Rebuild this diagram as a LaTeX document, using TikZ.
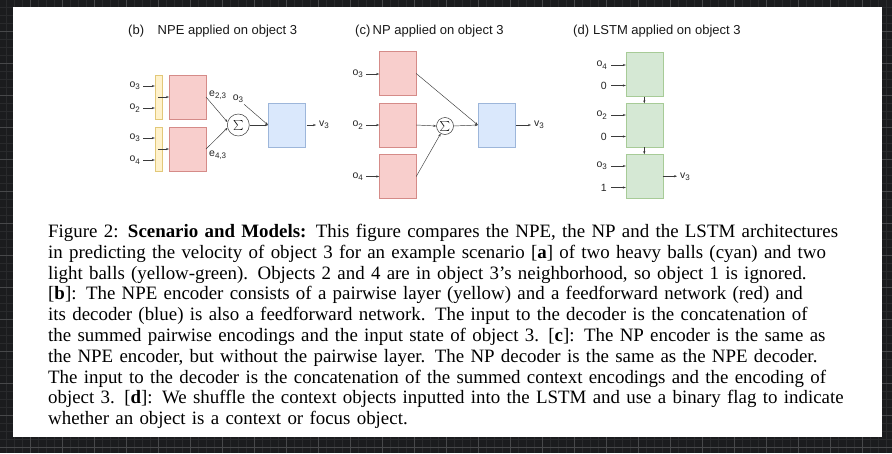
\documentclass[tikz,border=0pt]{standalone}
\usepackage{fontspec}
\setmainfont{Liberation Serif}
\newfontfamily\dfont{Liberation Sans}
\usetikzlibrary{arrows.meta}
\definecolor{bgdark}{HTML}{1B1C1E}
\definecolor{gridmin}{HTML}{292A2C}
\definecolor{gridmaj}{HTML}{47484A}
\definecolor{yfill}{HTML}{FFF2CC}\definecolor{ydraw}{HTML}{D6B656}
\definecolor{rfill}{HTML}{F8CECC}\definecolor{rdraw}{HTML}{B85450}
\definecolor{bfill}{HTML}{DAE8FC}\definecolor{bdraw}{HTML}{6C8EBF}
\definecolor{gfill}{HTML}{D5E8D4}\definecolor{gdraw}{HTML}{82B366}
\definecolor{linec}{HTML}{3A3A3A}
\newcommand{\dsub}[1]{\raisebox{-2.4pt}{\fontsize{8}{8}\selectfont #1}}
\newcommand{\capline}[1]{\makebox[750pt][s]{#1}}
\begin{document}
\begin{tikzpicture}[x=1pt,y=-1pt,
  box/.style={line width=0.5pt, minimum width=37pt, minimum height=44pt, inner sep=0, outer sep=0},
  ybar/.style={draw=ydraw!70!yfill, fill=yfill, line width=0.5pt, minimum width=7pt, minimum height=44pt, inner sep=0, outer sep=0},
  rbox/.style={box, draw=rdraw!55!rfill, fill=rfill},
  bbox/.style={box, draw=bdraw!55!bfill, fill=bfill},
  gbox/.style={box, draw=gdraw!55!gfill, fill=gfill},
  lab/.style={font=\dfont\fontsize{10.5}{10.5}\selectfont, inner sep=1pt, text=black!85},
  ttl/.style={font=\dfont\fontsize{13}{13}\selectfont, anchor=west, inner sep=0, text=black!90},
  arr/.style={-{Stealth[length=3pt,width=2.2pt]}, line width=0.45pt, draw=linec},
  sig/.style={circle, draw=linec, line width=0.5pt, inner sep=0, fill=white}
]
\useasboundingbox (0,0) rectangle (892,453);
% dark background with grid
\fill[bgdark] (0,0) rectangle (892,453);
\foreach \x in {6,14,...,886} \draw[gridmin, line width=0.6pt] (\x,0) -- (\x,453);
\foreach \y in {7,15,...,447} \draw[gridmin, line width=0.6pt] (0,\y) -- (892,\y);
\foreach \x in {30,62,...,862} \draw[gridmaj, line width=0.7pt] (\x,0) -- (\x,453);
\foreach \y in {31,63,...,447} \draw[gridmaj, line width=0.7pt] (0,\y) -- (892,\y);
\fill[white] (13,7) rectangle (882,437);

% ---------- (b) NPE ----------
\node[ttl] (tb) at (128,31) {\makebox[29.5pt][l]{(b)}NPE applied on object 3};
\node[ybar] (ya) at (158.3,97) {};
\node[ybar] (yb) at (158.3,149) {};
\node[rbox] (ra) at (187.5,97) {};
\node[rbox] (rb) at (187.5,149) {};
\node[lab, anchor=east] (la1) at (141,86) {o\dsub{3}};
\node[lab, anchor=east] (la2) at (141,108) {o\dsub{2}};
\node[lab, anchor=east] (lb1) at (141,138) {o\dsub{3}};
\node[lab, anchor=east] (lb2) at (141,160) {o\dsub{4}};
\foreach \n in {la1,la2} \draw[arr] ([xshift=2pt]\n.east) -- (\n.east -| ya.west);
\foreach \n in {lb1,lb2} \draw[arr] ([xshift=2pt]\n.east) -- (\n.east -| yb.west);
\draw[arr] (ya.center) -- (ra.west);
\draw[arr] (yb.center) -- (rb.west);
\node[sig, minimum size=22pt] (sb) at (238.3,125) {\fontsize{12}{12}\selectfont$\sum$};
\node[lab, anchor=west] (eb1) at (208,95) {e\dsub{2,3}};
\node[lab, anchor=west] (eb2) at (208,155) {e\dsub{4,3}};
\draw[arr] (ra.east) -- (sb.165);
\draw[arr] (rb.east) -- (sb.195);
\node[lab] (lo3) at (238,99) {o\dsub{3}};
\node[bbox] (bb) at (286.5,125) {};
\draw[arr] (lo3) -- (bb.west);
\draw[arr] (sb.east) -- (bb.west);
\node[lab, anchor=west] (vb) at (318,125) {v\dsub{3}};
\draw[arr, shorten <=1.5pt, shorten >=2pt] (bb.east) -- (vb.west);

% ---------- (c) NP ----------
\node[ttl] (tc) at (355,31) {\makebox[17.5pt][l]{(c)}NP applied on object 3};
\node[rbox] (c1) at (397.7,73.5) {};
\node[rbox] (c2) at (397.7,125) {};
\node[rbox] (c3) at (397.7,176.5) {};
\node[lab, anchor=east] (lc1) at (364,74) {o\dsub{3}};
\node[lab, anchor=east] (lc2) at (364,125) {o\dsub{2}};
\node[lab, anchor=east] (lc3) at (364,176.5) {o\dsub{4}};
\draw[arr] ([xshift=2pt]lc1.east) -- (lc1.east -| c1.west);
\draw[arr] ([xshift=2pt]lc2.east) -- (lc2.east -| c2.west);
\draw[arr] ([xshift=2pt]lc3.east) -- (lc3.east -| c3.west);
\node[sig, minimum size=17pt] (sc) at (445,126) {\fontsize{10}{10}\selectfont$\sum$};
\node[bbox] (cb) at (496.3,125) {};
\draw[arr] (c1.east) -- (cb.west);
\draw[arr] (c2.east) -- (sc.west);
\draw[arr] (c3.east) -- (sc);
\draw[arr] (sc.east) -- (cb.west);
\node[lab, anchor=west] (vc) at (533,125) {v\dsub{3}};
\draw[arr, shorten <=1.5pt, shorten >=2pt] (cb.east) -- (vc.west);

% ---------- (d) LSTM ----------
\node[ttl] (td) at (573,31) {\makebox[20pt][l]{(d)}LSTM applied on object 3};
\node[gbox] (d1) at (644.3,74.5) {};
\node[gbox] (d2) at (644.3,125.3) {};
\node[gbox] (d3) at (644.3,176.2) {};
\node[lab, anchor=east] (ld1) at (608,65) {o\dsub{4}};
\node[lab, anchor=east] (ld2) at (608,85.5) {0};
\node[lab, anchor=east] (ld3) at (608,115) {o\dsub{2}};
\node[lab, anchor=east] (ld4) at (608,136.5) {0};
\node[lab, anchor=east] (ld5) at (608,166) {o\dsub{3}};
\node[lab, anchor=east] (ld6) at (608,187.5) {1};
\foreach \n in {ld1,ld2,ld3,ld4,ld5,ld6} \draw[arr] ([xshift=3pt]\n.east) -- (\n.east -| d1.west);
\draw[arr] (d1.south) -- (d2.north);
\draw[arr] (d2.south) -- (d3.north);
\node[lab, anchor=west] (vd) at (679,177) {v\dsub{3}};
\draw[arr, shorten >=2pt] (d3.east) -- (d3.east -| vd.west);

% ---------- caption ----------
\node[anchor=north west, inner sep=0, text width=750pt, align=left,
      font=\fontsize{18.9}{20.8}\selectfont] (cap) at (48,224) {%
\capline{Figure 2: \textbf{Scenario and Models:} This figure compares the NPE, the NP and the LSTM architectures}\\
\capline{in predicting the velocity of object 3 for an example scenario [\textbf{a}] of two heavy balls (cyan) and two}\\
\capline{light balls (yellow-green). Objects 2 and 4 are in object 3’s neighborhood, so object 1 is ignored.}\\
\capline{[\textbf{b}]: The NPE encoder consists of a pairwise layer (yellow) and a feedforward network (red) and}\\
\capline{its decoder (blue) is also a feedforward network. The input to the decoder is the concatenation of}\\
\capline{the summed pairwise encodings and the input state of object 3. [\textbf{c}]: The NP encoder is the same as}\\
\capline{the NPE encoder, but without the pairwise layer. The NP decoder is the same as the NPE decoder.}\\
\capline{The input to the decoder is the concatenation of the summed context encodings and the encoding of}\\
\capline{object 3. [\textbf{d}]: We shuffle the context objects inputted into the LSTM and use a binary flag to indicate}\\
whether an object is a context or focus object.};
\end{tikzpicture}
\end{document}
